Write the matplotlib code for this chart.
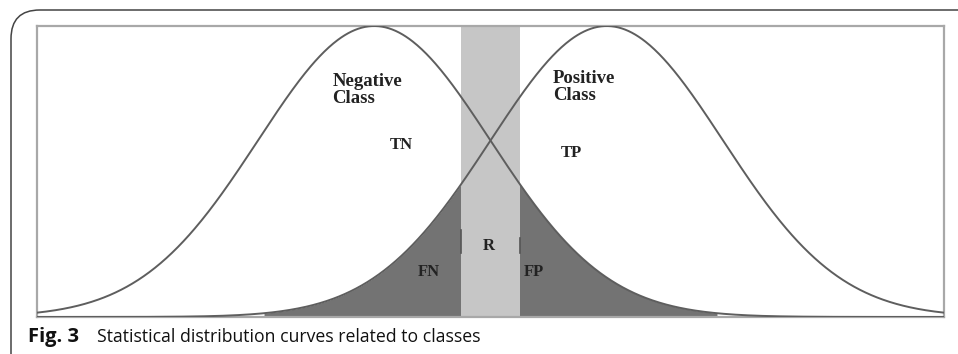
import numpy as np
import matplotlib
matplotlib.use("Agg")
import matplotlib.pyplot as plt
from matplotlib.patches import FancyBboxPatch

# class distributions (unit-height gaussians)
class_names = ["Negative\nClass", "Positive\nClass"]
class_means = [0.0, 2.0]
class_sigma = 1.0

# region between the two thresholds
band_edges = [0.75, 1.25]
# where the shaded error tails start / end
fn_start = -0.95
fp_end = 2.95

# labels and where they sit (data coords)
region_labels = ["TN", "TP", "FN", "R", "FP"]
region_x = [0.13, 1.60, 0.376, 0.935, 1.29]
region_y = [0.59, 0.565, 0.155, 0.245, 0.155]
class_label_x = [-0.36, 1.537]
class_label_y = [0.84, 0.85]

caption_bold = "Fig. 3"
caption_text = "Statistical distribution curves related to classes"


def gauss(x, mu):
    return np.exp(-(x - mu) ** 2 / (2 * class_sigma ** 2))


fig = plt.figure(figsize=(9.58, 3.54), dpi=100)
fig.patch.set_facecolor("white")

# outer rounded frame, runs off the right and bottom edges
frame = FancyBboxPatch((11 / 958, -0.2), 1.2, (354 - 10) / 354 + 0.2,
                       boxstyle="round,pad=0,rounding_size=0.03",
                       transform=fig.transFigure, facecolor="none",
                       edgecolor="#444444", linewidth=1.1, clip_on=False,
                       mutation_aspect=958 / 354)
fig.patches.append(frame)

ax = fig.add_axes([37 / 958, (354 - 317) / 354, (944 - 37) / 958, (317 - 26) / 354])
ax.set_xlim(-2.9, 4.9)
ax.set_ylim(0, 1.0)
ax.set_xticks([])
ax.set_yticks([])
for s in ax.spines.values():
    s.set_color("#a8a8a8")
    s.set_linewidth(1.6)

x = np.linspace(-2.9, 4.9, 800)
neg = gauss(x, class_means[0])
pos = gauss(x, class_means[1])

# false negatives: positive curve left of band (run a bit under the band)
m = (x >= fn_start) & (x <= band_edges[0] + 0.05)
ax.fill_between(x[m], 0, pos[m], color="#737373", lw=0, zorder=1)
# false positives: negative curve right of band
m = (x >= band_edges[1] - 0.05) & (x <= fp_end)
ax.fill_between(x[m], 0, neg[m], color="#737373", lw=0, zorder=1)

# threshold band on top of the tails
ax.axvspan(band_edges[0], band_edges[1], color="#c6c6c6", zorder=1.5, lw=0)

ax.plot(x, neg, color="#5e5e5e", lw=1.4, zorder=3)
ax.plot(x, pos, color="#5e5e5e", lw=1.4, zorder=3)

# small dark marks on band edges
ax.plot([band_edges[0]] * 2, [0.22, 0.30], color="#555555", lw=1.2, zorder=2)
ax.plot([band_edges[1]] * 2, [0.22, 0.27], color="#555555", lw=1.2, zorder=2)

for name, lx, ly in zip(class_names, class_label_x, class_label_y):
    ax.text(lx, ly, name, family="Liberation Serif", weight="bold", fontsize=13.5,
            color="#222222", ha="left", va="top", linespacing=1.0, zorder=4)

for lab, lx, ly in zip(region_labels, region_x, region_y):
    ax.text(lx, ly, lab, family="Liberation Serif", weight="bold", fontsize=12,
            color="#222222", ha="left", va="center", zorder=4)

base_y = (354 - 342) / 354
fig.text(28 / 958, base_y, caption_bold, family="Open Sans", weight="bold",
         fontsize=14.5, color="#111111", ha="left", va="baseline")
fig.text(97 / 958, base_y, caption_text, family="Open Sans",
         fontsize=12.7, color="#111111", ha="left", va="baseline")

fig.savefig("out.png", dpi=100, facecolor="white")
